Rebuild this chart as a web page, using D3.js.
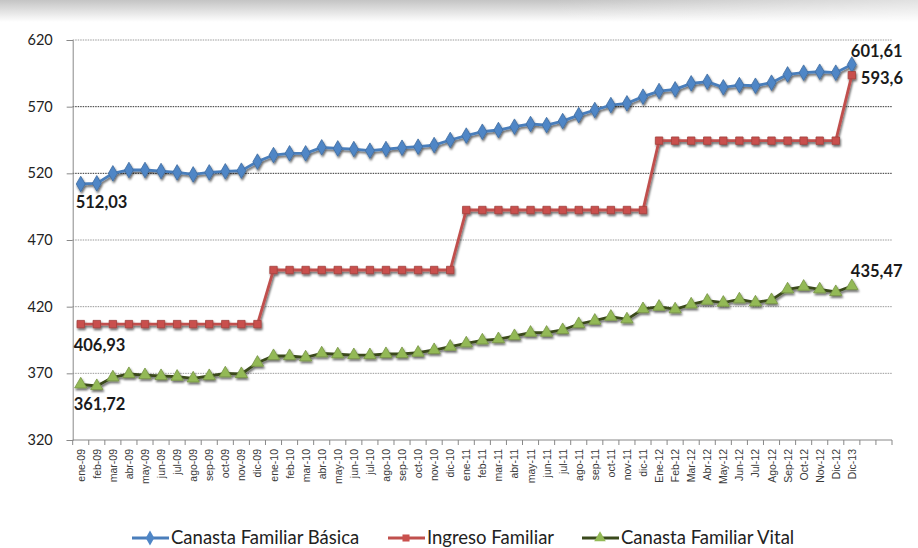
<!DOCTYPE html>
<html>
<head>
<meta charset="utf-8">
<script src="https://cdn.jsdelivr.net/npm/d3@7"></script>
<style>
  body { margin: 0; background: #fff; }
  svg { display: block; }
</style>
</head>
<body>
<div id="graph"></div>
<script>
// categorias (meses)
const months = [
  'ene-09','feb-09','mar-09','abr-09','may-09','jun-09','jul-09','ago-09','sep-09','oct-09','nov-09','dic-09',
  'ene-10','feb-10','mar-10','abr-10','may-10','jun-10','jul-10','ago-10','sep-10','oct-10','nov-10','dic-10',
  'ene-11','feb-11','mar-11','abr-11','may-11','jun-11','jul-11','ago-11','sep-11','oct-11','nov-11','dic-11',
  'Ene-12','Feb-12','Mar-12','Abr-12','May-12','Jun-12','Jul-12','Ago-12','Sep-12','Oct-12','Nov-12','Dic-12',
  'Dic-13'
]

const basica = [
  512.03, 512.5, 520, 522.5, 522.5, 521.7, 520.7, 519.2, 520.7, 521.5, 522, 528.8,
  533.7, 535, 535, 539.5, 538.7, 538.2, 537, 538.2, 539.2, 540, 541.2, 545,
  548.3, 551.2, 552.5, 555, 557, 556.2, 559.2, 563.7, 567.5, 571.2, 572.5, 577.5,
  581.7, 583, 587.5, 588.7, 584.5, 586.2, 585.7, 588, 594.2, 595.5, 596.2, 595.5,
  601.61
]

const ingreso = [
  406.93, 406.93, 406.93, 406.93, 406.93, 406.93, 406.93, 406.93, 406.93, 406.93, 406.93, 406.93,
  447.5, 447.5, 447.5, 447.5, 447.5, 447.5, 447.5, 447.5, 447.5, 447.5, 447.5, 447.5,
  492.5, 492.5, 492.5, 492.5, 492.5, 492.5, 492.5, 492.5, 492.5, 492.5, 492.5, 492.5,
  544.5, 544.5, 544.5, 544.5, 544.5, 544.5, 544.5, 544.5, 544.5, 544.5, 544.5, 544.5,
  593.6
]

const vital = [
  361.72, 360.5, 367, 369.5, 368.7, 368, 367.5, 366.2, 368, 370, 369.5, 378,
  383, 383, 382, 385, 384.3, 383.7, 383.7, 384.5, 384.5, 385.5, 387.5, 390,
  392.5, 394.7, 395.7, 398, 400.5, 400.5, 402.5, 407, 409.5, 412.5, 410.5, 418.2,
  420, 418, 421.7, 424.5, 423, 425.5, 423.2, 425, 433, 435, 433, 431,
  435.47
]

const yTicks = [320, 370, 420, 470, 520, 570, 620]
const darkGrid = [520, 570]

const width = 918
const height = 548
const plotLeft = 72.7, plotRight = 892, plotTop = 40, plotBottom = 440
const nSlots = months.length + 2

const svg = d3.select('#graph').append('svg')
  .attr('width', width)
  .attr('height', height)

const defs = svg.append('defs')
const grad = defs.append('linearGradient').attr('id', 'band').attr('x1', 0).attr('y1', 0).attr('x2', 0).attr('y2', 1)
grad.append('stop').attr('offset', '0%').attr('stop-color', '#c4c4c4')
grad.append('stop').attr('offset', '100%').attr('stop-color', '#ffffff')
const grad2 = defs.append('linearGradient').attr('id', 'bandh').attr('x1', 0).attr('y1', 0).attr('x2', 1).attr('y2', 0)
grad2.append('stop').attr('offset', '0%').attr('stop-color', '#fff').attr('stop-opacity', 0)
grad2.append('stop').attr('offset', '60%').attr('stop-color', '#fff').attr('stop-opacity', 0)
grad2.append('stop').attr('offset', '100%').attr('stop-color', '#fff').attr('stop-opacity', 0.5)

const shadow = defs.append('filter').attr('id', 'shadow')
  .attr('x', '-5%').attr('y', '-20%').attr('width', '110%').attr('height', '140%')
shadow.append('feDropShadow')
  .attr('dx', 1).attr('dy', 2).attr('stdDeviation', 1.2)
  .attr('flood-color', '#000').attr('flood-opacity', 0.6)

// banda gris de la diapositiva
svg.append('rect').attr('x', 0).attr('y', 0).attr('width', width).attr('height', 22).attr('fill', 'url(#band)')
svg.append('rect').attr('x', 0).attr('y', 0).attr('width', width).attr('height', 22).attr('fill', 'url(#bandh)')

const xScale = d3.scaleBand().domain(d3.range(nSlots)).range([plotLeft, plotRight]).padding(0)
const cx = i => xScale(i) + xScale.bandwidth() / 2
const yScale = d3.scaleLinear().domain([320, 620]).range([plotBottom, plotTop])

// grid
svg.append('g').selectAll('line')
  .data(yTicks.filter(t => t !== 320))
  .enter().append('line')
  .attr('x1', plotLeft).attr('x2', plotRight)
  .attr('y1', d => yScale(d)).attr('y2', d => yScale(d))
  .attr('stroke', d => darkGrid.includes(d) ? '#333' : '#9a9a9a')
  .attr('stroke-width', 1)
  .attr('stroke-dasharray', '1.5,1')

const yAxis = d3.axisLeft(yScale).tickValues(yTicks).tickSize(6).tickPadding(14)
const gy = svg.append('g').attr('transform', `translate(${plotLeft},0)`).call(yAxis)
gy.select('.domain').attr('stroke', '#888')
gy.selectAll('.tick line').attr('stroke', '#888')
gy.selectAll('text').attr('font-family', 'Lato, sans-serif').attr('font-size', 14.5).attr('fill', '#222')

// x axis
const gx = svg.append('g').attr('transform', `translate(0,${plotBottom})`)
gx.append('line').attr('x1', plotLeft).attr('x2', plotRight).attr('stroke', '#888')
gx.selectAll('.tk').data(d3.range(nSlots + 1)).enter().append('line')
  .attr('x1', i => plotLeft + i * xScale.bandwidth()).attr('x2', i => plotLeft + i * xScale.bandwidth())
  .attr('y1', 0).attr('y2', 5).attr('stroke', '#888')
gx.selectAll('text').data(months).enter().append('text')
  .attr('transform', (d, i) => `translate(${cx(i) + 4},9) rotate(-90)`)
  .attr('text-anchor', 'end')
  .attr('font-family', '"Liberation Sans", Arial, sans-serif')
  .attr('font-size', 10.5)
  .attr('fill', '#3a3a3a')
  .text(d => d)

const line = d3.line().x((d, i) => cx(i)).y(d => yScale(d))

const series = [
  { name: 'Canasta Familiar Básica', data: basica, stroke: '#4a7ebb', fill: '#4f86c6', shape: d3.symbolDiamond, size: 70 },
  { name: 'Ingreso Familiar', data: ingreso, stroke: '#c0504d', fill: '#c9504d', shape: d3.symbolSquare, size: 55 },
  { name: 'Canasta Familiar Vital', data: vital, stroke: '#3a4a1c', fill: '#93b956', shape: d3.symbolTriangle, size: 65 }
]

series.forEach(s => {
  const g = svg.append('g').attr('filter', 'url(#shadow)')
  g.append('path').datum(s.data)
    .attr('d', line)
    .attr('fill', 'none')
    .attr('stroke', s.stroke)
    .attr('stroke-width', 2.8)
  g.selectAll('path.m').data(s.data).enter().append('path')
    .attr('class', 'm')
    .attr('d', d3.symbol().type(s.shape).size(s.size))
    .attr('transform', (d, i) => `translate(${cx(i)},${yScale(d)})`)
    .attr('fill', s.fill)
    .attr('stroke', d3.color(s.fill).darker(0.6))
    .attr('stroke-width', 0.8)
})

// etiquetas de datos
const fmt = v => String(v).replace('.', ',')
const last = months.length - 1
const labels = [
  { v: basica[0], x: cx(0) - 5, y: yScale(basica[0]) + 24 },
  { v: ingreso[0], x: cx(0) - 7, y: yScale(ingreso[0]) + 27 },
  { v: vital[0], x: cx(0) - 7, y: yScale(vital[0]) + 26 },
  { v: basica[last], x: cx(last) - 1, y: yScale(basica[last]) - 8 },
  { v: ingreso[last], x: cx(last) + 9, y: yScale(ingreso[last]) + 9 },
  { v: vital[last], x: cx(last) - 1, y: yScale(vital[last]) - 9 }
]
svg.append('g').selectAll('text').data(labels).enter().append('text')
  .attr('x', d => d.x).attr('y', d => d.y)
  .attr('font-family', 'Lato, sans-serif')
  .attr('font-weight', 'bold')
  .attr('font-size', 16.5)
  .attr('fill', '#1a1a1a')
  .text(d => fmt(d.v))

// leyenda
const legendX = [132, 388, 582]
const legend = svg.append('g').attr('id', 'legend')
series.forEach((s, k) => {
  const lg = legend.append('g').attr('transform', `translate(${legendX[k]},538)`)
  lg.append('line').attr('x1', 0).attr('x2', 37).attr('stroke', s.stroke).attr('stroke-width', 2.8)
  lg.append('path').attr('d', d3.symbol().type(s.shape).size(s.size * 0.9))
    .attr('transform', 'translate(18,0)').attr('fill', s.fill)
  lg.append('text').attr('x', 39).attr('y', 6)
    .attr('font-family', 'Lato, sans-serif').attr('font-size', 18.5).attr('fill', '#222')
    .text(s.name)
})
</script>
</body>
</html>
